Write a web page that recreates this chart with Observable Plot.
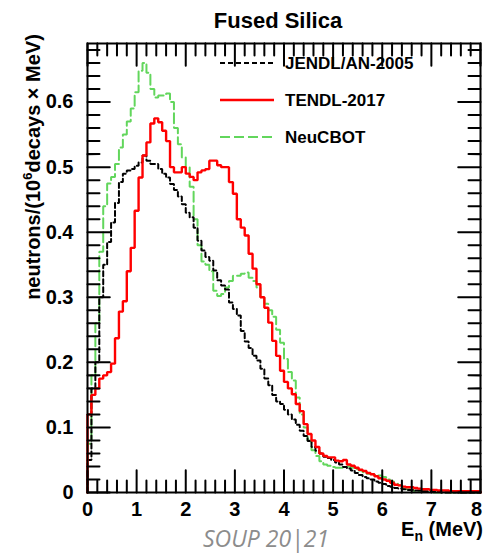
<!DOCTYPE html>
<html><head><meta charset="utf-8">
<script src="https://cdn.jsdelivr.net/npm/d3@7"></script>
<script src="https://cdn.jsdelivr.net/npm/@observablehq/plot@0.6"></script>
<style>
html,body{margin:0;padding:0;background:#fff;}
#wrap{position:relative;width:483px;height:553px;overflow:hidden;background:#fff;}
#overlay{position:absolute;left:0;top:0;pointer-events:none;}
</style></head><body><div id="wrap"></div>
<script>
// ---- data (bin width 0.08 MeV, 100 bins from 0 to 8 MeV) ----
const binWidth = 0.08;
const jendl = [
0.05,0.16,0.20,0.30,0.35,0.385,0.415,0.445,0.477,0.49,
0.495,0.497,0.502,0.507,0.518,0.51,0.505,0.505,0.497,0.49,
0.484,0.474,0.465,0.455,0.443,0.43,0.423,0.407,0.387,0.372,
0.362,0.356,0.341,0.326,0.318,0.312,0.292,0.282,0.272,0.248,
0.232,0.222,0.21,0.203,0.19,0.175,0.165,0.15,0.14,0.136,
0.127,0.12,0.112,0.104,0.095,0.087,0.079,0.07,0.064,0.06,
0.055,0.053,0.05,0.046,0.043,0.039,0.037,0.034,0.03,0.027,
0.024,0.022,0.02,0.017,0.015,0.013,0.01,0.009,0.007,0.006,
0.005,0.004,0.004,0.003,0.003,0.002,0.002,0.002,0.001,0.001,
0,0,0,0,0,0,0,0,0,0];
const tendl = [
0.12,0.15,0.16,0.175,0.18,0.185,0.198,0.237,0.278,0.294,
0.34,0.376,0.433,0.484,0.518,0.538,0.567,0.575,0.569,0.556,
0.54,0.50,0.492,0.492,0.50,0.49,0.485,0.48,0.492,0.495,
0.497,0.51,0.51,0.503,0.50,0.50,0.477,0.459,0.42,0.407,
0.395,0.367,0.344,0.32,0.30,0.284,0.261,0.233,0.21,0.187,
0.17,0.16,0.151,0.136,0.125,0.105,0.09,0.08,0.07,0.06,
0.056,0.054,0.054,0.049,0.048,0.05,0.043,0.041,0.038,0.035,
0.033,0.03,0.028,0.025,0.022,0.02,0.018,0.015,0.012,0.011,
0.009,0.008,0.008,0.007,0.006,0.005,0.005,0.004,0.004,0.003,
0.003,0.003,0.002,0.002,0.002,0.002,0.002,0.002,0.002,0.002];
const neucbot = [
0.075,0.18,0.26,0.37,0.44,0.475,0.485,0.505,0.53,0.55,
0.57,0.59,0.615,0.648,0.66,0.645,0.62,0.607,0.61,0.61,
0.613,0.60,0.56,0.535,0.515,0.50,0.47,0.42,0.38,0.355,
0.35,0.34,0.31,0.302,0.305,0.315,0.325,0.333,0.333,0.336,
0.338,0.33,0.325,0.315,0.30,0.29,0.28,0.27,0.25,0.23,
0.205,0.185,0.172,0.146,0.12,0.10,0.08,0.065,0.056,0.048,
0.043,0.041,0.039,0.038,0.038,0.039,0.04,0.038,0.036,0.034,
0.031,0.029,0.028,0.027,0.026,0.024,0.02,0.017,0.014,0.011,
0.007,0.005,0.004,0.002,0.002,0.002,0.001,0.001,0,0,
0,0,0,0,0,0,0,0,0,0];
const legendLabels = ["JENDL/AN-2005", "TENDL-2017", "NeuCBOT"];
const xMajor = [0,1,2,3,4,5,6,7,8];
const xTickLabels = ["0","1","2","3","4","5","6","7","8"];
const yMajor = [0,0.1,0.2,0.3,0.4,0.5,0.6];
const yTickLabels = ["0","0.1","0.2","0.3","0.4","0.5","0.6"];
const titleText = "Fused Silica";
const captionText = "SOUP 20|21";

// ---- layout ----
const W = 483, H = 553, mL = 87, mR = 3, mT = 43, mB = 61;
const xDom = [0, 8], yDom = [0, 0.69];
const xMinor = [], yMinor = [];
for (let i = 0; i <= 40; i++) if (i % 5 !== 0) xMinor.push(i * 0.2);
for (let i = 0; i <= 34; i++) if (i % 5 !== 0) yMinor.push(i * 0.02);
const majL = 13, minL = 7;

function steps(vals) {
  const pts = [{x: 0, y: 0}];
  vals.forEach((v, i) => { pts.push({x: i * binWidth, y: v}, {x: (i + 1) * binWidth, y: v}); });
  pts.push({x: vals.length * binWidth, y: 0});
  return pts;
}

// tick segments as data: each has an x or y value and which side it sits on
const tickRows = [];
for (const v of xMajor) { tickRows.push({v, side: "b", len: majL}, {v, side: "t", len: majL}); }
for (const v of xMinor) { tickRows.push({v, side: "b", len: minL}, {v, side: "t", len: minL}); }
for (const v of yMajor) { tickRows.push({v, side: "l", len: majL}, {v, side: "r", len: majL}); }
for (const v of yMinor) { tickRows.push({v, side: "l", len: minL}, {v, side: "r", len: minL}); }

const colors = {jendl: "#000000", tendl: "#ff0000", neucbot: "#62d65c"};
const xLab = t => xTickLabels[xMajor.indexOf(t)];

// Ticks drawn with Plot.vector: anchored at the frame edge, pointing inward
const vecX = tickRows.filter(r => r.side === "b" || r.side === "t");
const vecY = tickRows.filter(r => r.side === "l" || r.side === "r");

const plot = Plot.plot({
  width: W, height: H,
  marginLeft: mL, marginRight: mR, marginTop: mT, marginBottom: mB,
  x: {domain: xDom},
  y: {domain: yDom},
  style: {fontFamily: "'Liberation Sans', Arial, sans-serif", fontWeight: "bold", color: "black", background: "white"},
  marks: [
    Plot.line(steps(neucbot), {x: "x", y: "y", stroke: colors.neucbot, strokeWidth: 2, strokeDasharray: "10,4", strokeLinejoin: "miter"}),
    Plot.line(steps(jendl), {x: "x", y: "y", stroke: colors.jendl, strokeWidth: 2, strokeDasharray: "5,3", strokeLinejoin: "miter"}),
    Plot.line(steps(tendl), {x: "x", y: "y", stroke: colors.tendl, strokeWidth: 2.4, strokeLinejoin: "miter"}),
    Plot.vector(vecX, {x: "v", y: r => r.side === "b" ? yDom[0] : yDom[1], length: "len",
      rotate: r => r.side === "b" ? 0 : 180, anchor: "start", stroke: "black", strokeWidth: 2, shape: "spike", r: 0.01}),
    Plot.vector(vecY, {x: r => r.side === "l" ? xDom[0] : xDom[1], y: "v", length: "len",
      rotate: r => r.side === "l" ? 90 : 270, anchor: "start", stroke: "black", strokeWidth: 2, shape: "spike", r: 0.01}),
    Plot.frame({stroke: "black", strokeWidth: 2}),
    Plot.axisX(xMajor.slice(0, -1), {tickSize: 0, tickPadding: 9, fontSize: 20, label: null, tickFormat: xLab}),
    Plot.axisX(xMajor.slice(-1), {tickSize: 0, tickPadding: 9, fontSize: 20, label: null, tickFormat: xLab, dx: -4}),
    Plot.axisY(yMajor, {tickSize: 0, tickPadding: 14, fontSize: 20, label: null,
      tickFormat: t => yTickLabels[yMajor.indexOf(t)]})
  ]
});
const wrap = document.getElementById("wrap");
wrap.appendChild(plot);

// ---- annotations: title, axis titles, legend, caption ----
const ff = "'Liberation Sans', Arial, sans-serif";
const legendItems = [
  {label: legendLabels[0], color: colors.jendl, dash: "5,3", w: 2, y: 63},
  {label: legendLabels[1], color: colors.tendl, dash: "none", w: 2.4, y: 100},
  {label: legendLabels[2], color: colors.neucbot, dash: "10,4", w: 2, y: 137}
];
let svg = `<svg id="overlay" width="${W}" height="${H}" xmlns="http://www.w3.org/2000/svg" font-family="${ff}" font-weight="bold">`;
svg += `<text x="278" y="28" text-anchor="middle" font-size="22">${titleText}</text>`;
svg += `<text transform="translate(40,167) rotate(-90)" text-anchor="middle" font-size="20">neutrons/(10<tspan dy="-8" font-size="13">6</tspan><tspan dy="8">decays × MeV)</tspan></text>`;
svg += `<text x="483" y="536" text-anchor="end" font-size="20">E<tspan dy="5" font-size="14">n</tspan><tspan dy="-5"> (MeV)</tspan></text>`;
for (const it of legendItems) {
  svg += `<line x1="220" x2="274" y1="${it.y}" y2="${it.y}" stroke="${it.color}" stroke-width="${it.w}" stroke-dasharray="${it.dash}"/>`;
  svg += `<text x="285" y="${it.y + 6}" font-size="17">${it.label}</text>`;
}
svg += `<text x="203" y="547" font-family="'Open Sans', 'DejaVu Sans', sans-serif" font-weight="normal" font-style="italic" font-size="23" fill="#8c8c8c">${captionText}</text>`;
svg += `</svg>`;
wrap.insertAdjacentHTML("beforeend", svg);
</script>
</body></html>
